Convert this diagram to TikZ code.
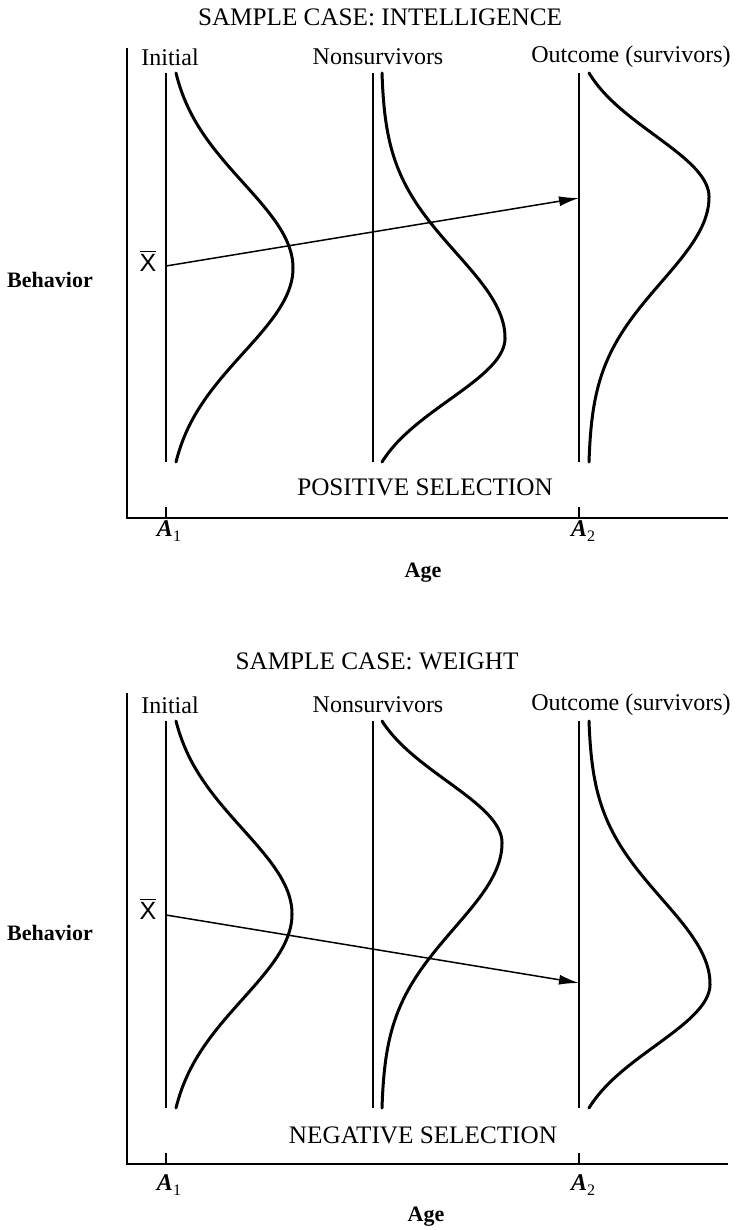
\documentclass[tikz,border=0pt]{standalone}
\usepackage{fontspec}
\setmainfont{Liberation Serif}
\newfontfamily\xfont{Liberation Sans}
\usetikzlibrary{arrows.meta}

% one half of a bell curve, from its peak down to a tail
% #1 base x, #2 height, #3 peak y, #4 spread, #5 tail y
\newcommand{\halfbell}[5]{%
  plot[variable=\yy,domain=#3:#5,samples=60,smooth]
  ({#1+#2*(exp(-0.5*((\yy-#3)/#4)*((\yy-#3)/#4))-exp(-0.5*((#5-#3)/#4)*((#5-#3)/#4)))/(1-exp(-0.5*((#5-#3)/#4)*((#5-#3)/#4)))},\yy)}
\newcommand{\agelbl}[1]{{\fontsize{12}{13}\selectfont\bfseries\itshape A}\raisebox{-0.5ex}{\fontsize{8}{9}\selectfont #1}}

\begin{document}
\begin{tikzpicture}[
  x=0.5pt,y=-0.5pt,
  >={Latex[length=10pt,width=5pt]},
  axis/.style={line width=0.8pt},
  col/.style={line width=0.75pt},
  curve/.style={line width=1.5pt,line cap=round},
  edge/.style={->,line width=0.75pt},
  ttl/.style={inner sep=0pt,font=\fontsize{12.6}{15}\selectfont},
  lbl/.style={inner sep=0pt,font=\fontsize{12}{14}\selectfont},
  var/.style={inner sep=0pt,font=\fontsize{11}{13}\selectfont\bfseries},
  mean/.style={inner sep=0pt,font=\fontsize{12.5}{14}\selectfont}
]
\useasboundingbox (0,0) rectangle (738,1230);

% ---------- upper panel: intelligence ----------
\node[ttl] (t1) at (380,17) {SAMPLE CASE: INTELLIGENCE};
\node[lbl] (ini1) at (170,57) {Initial};
\node[lbl] (non1) at (378,57) {Nonsurvivors};
\node[lbl] (out1) at (631,57) {Outcome (survivors)};
\draw[axis] (127,48) |- (728,518);
\foreach \x in {166,579} \draw[axis] (\x,507) -- (\x,518);
\node[lbl] (a11) at (169,531) {\agelbl{1}};
\node[lbl] (a21) at (583,531) {\agelbl{2}};
\node[var] (age1) at (423,573) {Age};
\node[var] (beh1) at (50,280) {Behavior};
\node[ttl] (sel1) at (425,487) {POSITIVE SELECTION};
\foreach \x in {166,373,579} \draw[col] (\x,73) -- (\x,462);
\draw[curve] \halfbell{176}{117}{268}{85}{73};
\draw[curve] \halfbell{176}{117}{268}{85}{462};
\draw[curve] \halfbell{382}{123}{338}{85}{73};
\draw[curve] \halfbell{382}{123}{338}{62}{462};
\draw[curve] \halfbell{589}{120}{197}{62}{73};
\draw[curve] \halfbell{589}{120}{197}{85}{462};
\node[mean] (xb1) at (148,261) {$\overline{\hbox{\xfont X}}$};
\coordinate (m1) at (166,266);
\coordinate (m2) at (579,198);
\draw[edge] (m1) -- (m2);

% ---------- lower panel: weight ----------
\node[ttl] (t2) at (377,661) {SAMPLE CASE: WEIGHT};
\node[lbl] (ini2) at (170,705) {Initial};
\node[lbl] (non2) at (378,705) {Nonsurvivors};
\node[lbl] (out2) at (631,705) {Outcome (survivors)};
\draw[axis] (127,693) |- (728,1164);
\foreach \x in {166,579} \draw[axis] (\x,1153) -- (\x,1164);
\node[lbl] (a12) at (169,1185) {\agelbl{1}};
\node[lbl] (a22) at (583,1185) {\agelbl{2}};
\node[var] (age2) at (426,1217) {Age};
\node[var] (beh2) at (50,933) {Behavior};
\node[ttl] (sel2) at (423,1135) {NEGATIVE SELECTION};
\foreach \x in {166,373,579} \draw[col] (\x,721) -- (\x,1108);
\draw[curve] \halfbell{176}{116}{914}{85}{721};
\draw[curve] \halfbell{176}{116}{914}{85}{1108};
\draw[curve] \halfbell{382}{120}{843}{62}{721};
\draw[curve] \halfbell{382}{120}{843}{85}{1108};
\draw[curve] \halfbell{589}{121}{984}{85}{721};
\draw[curve] \halfbell{589}{121}{984}{62}{1108};
\node[mean] (xb2) at (148,909) {$\overline{\hbox{\xfont X}}$};
\coordinate (m3) at (166,915);
\coordinate (m4) at (579,983);
\draw[edge] (m3) -- (m4);
\end{tikzpicture}
\end{document}
